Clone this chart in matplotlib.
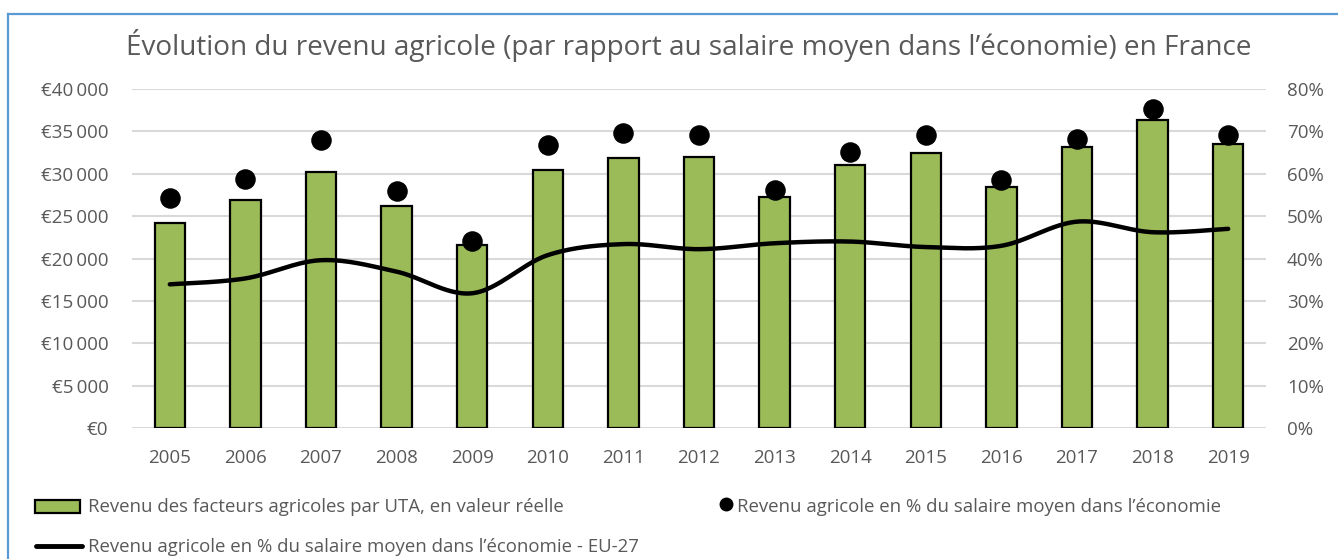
import numpy as np
import matplotlib
matplotlib.use("Agg")
import matplotlib.pyplot as plt
from matplotlib.lines import Line2D
from matplotlib.patches import Rectangle
from matplotlib.ticker import FuncFormatter, MultipleLocator

plt.rcParams['font.family'] = ['Open Sans', 'DejaVu Sans']

years = ["2005", "2006", "2007", "2008", "2009", "2010", "2011", "2012",
         "2013", "2014", "2015", "2016", "2017", "2018", "2019"]
revenu_uta = [24200, 26900, 30200, 26200, 21600, 30500, 31900, 32000,
              27300, 31000, 32500, 28400, 33100, 36300, 33500]
pct_france = [0.543, 0.588, 0.679, 0.560, 0.441, 0.668, 0.696, 0.691,
              0.562, 0.651, 0.691, 0.585, 0.683, 0.752, 0.691]
pct_eu27 = [0.339, 0.353, 0.396, 0.369, 0.318, 0.408, 0.434, 0.422,
            0.436, 0.440, 0.427, 0.430, 0.487, 0.462, 0.470]

label_bar = "Revenu des facteurs agricoles par UTA, en valeur réelle"
label_dot = "Revenu agricole en % du salaire moyen dans l’économie"
label_line = "Revenu agricole en % du salaire moyen dans l’économie - EU-27"
title = "Évolution du revenu agricole (par rapport au salaire moyen dans l’économie) en France"

GREEN = "#9BBB59"
GREY = "#595959"
GRID = "#D9D9D9"
BLUE = "#5B9BD5"


def smooth(xs, ys, n=30):
    """Excel-like smoothed line (Catmull-Rom Bezier through the points)."""
    xs = np.asarray(xs, float)
    ys = np.asarray(ys, float)
    px, py = [], []
    m = len(xs)
    for i in range(m - 1):
        p0 = (xs[max(i - 1, 0)], ys[max(i - 1, 0)])
        p1 = (xs[i], ys[i])
        p2 = (xs[i + 1], ys[i + 1])
        p3 = (xs[min(i + 2, m - 1)], ys[min(i + 2, m - 1)])
        c1 = (p1[0] + (p2[0] - p0[0]) / 6, p1[1] + (p2[1] - p0[1]) / 6)
        c2 = (p2[0] - (p3[0] - p1[0]) / 6, p2[1] - (p3[1] - p1[1]) / 6)
        t = np.linspace(0, 1, n)
        bx = (1 - t) ** 3 * p1[0] + 3 * (1 - t) ** 2 * t * c1[0] + 3 * (1 - t) * t ** 2 * c2[0] + t ** 3 * p2[0]
        by = (1 - t) ** 3 * p1[1] + 3 * (1 - t) ** 2 * t * c1[1] + 3 * (1 - t) * t ** 2 * c2[1] + t ** 3 * p2[1]
        px.extend(bx)
        py.extend(by)
    return np.array(px), np.array(py)


W, H = 1338, 559
fig = plt.figure(figsize=(W / 100, H / 100), dpi=100)
ax = fig.add_axes([132 / W, 1 - 428 / H, (1266 - 132) / W, (428 - 89) / H])
ax2 = ax.twinx()

x = np.arange(len(years))
ax.bar(x, revenu_uta, width=0.4, color=GREEN, edgecolor="black", linewidth=1.6, zorder=3)
ax.set_ylim(0, 40000)
ax.set_xlim(-0.5, len(years) - 0.5)
ax.yaxis.set_major_locator(MultipleLocator(5000))
ax.yaxis.set_major_formatter(FuncFormatter(lambda v, p: "€" + f"{int(v):,}".replace(",", "\u2009")))
ax.grid(axis="y", color=GRID, linewidth=1.5, zorder=0)
ax.set_axisbelow(True)
ax.set_xticks(x)
ax.set_xticklabels(years)

sx, sy = smooth(x, pct_eu27)
ax2.plot(sx, sy, color="black", linewidth=3.2, solid_capstyle="round", zorder=4)
ax2.scatter(x, pct_france, s=190, color="black", zorder=5)
ax2.set_ylim(0, 0.8)
ax2.yaxis.set_major_locator(MultipleLocator(0.1))
ax2.yaxis.set_major_formatter(FuncFormatter(lambda v, p: f"{v * 100:.0f}%"))

for a in (ax, ax2):
    for s in a.spines.values():
        s.set_visible(False)
ax.tick_params(axis="x", length=0, pad=15, labelsize=13.5, labelcolor=GREY)
ax.tick_params(axis="y", length=0, pad=17, labelsize=13.5, labelcolor=GREY)
ax2.tick_params(axis="y", length=0, pad=15, labelsize=13.5, labelcolor=GREY)

fig.text(689 / W, 1 - 45 / H, title, ha="center", va="center", fontsize=20.1,
         color=GREY)

# frame
fig.add_artist(Line2D([8 / W, 1.0], [1 - 14 / H, 1 - 14 / H], color=BLUE, linewidth=1.6,
                      transform=fig.transFigure))
fig.add_artist(Line2D([8 / W, 8 / W], [1 - 14 / H, 0.0], color=BLUE, linewidth=1.6,
                      transform=fig.transFigure))

# legend
fig.add_artist(Rectangle((35 / W, 1 - 513 / H), 45 / W, 13 / H, facecolor=GREEN,
                         edgecolor="black", linewidth=1.6, transform=fig.transFigure))
fig.text(88 / W, 1 - 507 / H, label_bar, ha="left", va="center", fontsize=13.4, color=GREY)
fig.add_artist(Line2D([726 / W], [1 - 504 / H], marker="o", markersize=9, color="black",
                      linestyle="none", transform=fig.transFigure))
fig.text(737 / W, 1 - 507 / H, label_dot, ha="left", va="center", fontsize=13.4, color=GREY)
fig.add_artist(Line2D([36 / W, 82 / W], [1 - 546 / H, 1 - 546 / H], color="black",
                      linewidth=3.5, solid_capstyle="round", transform=fig.transFigure))
fig.text(88 / W, 1 - 547 / H, label_line, ha="left", va="center", fontsize=13.4, color=GREY)

fig.savefig("out.png", dpi=100)
